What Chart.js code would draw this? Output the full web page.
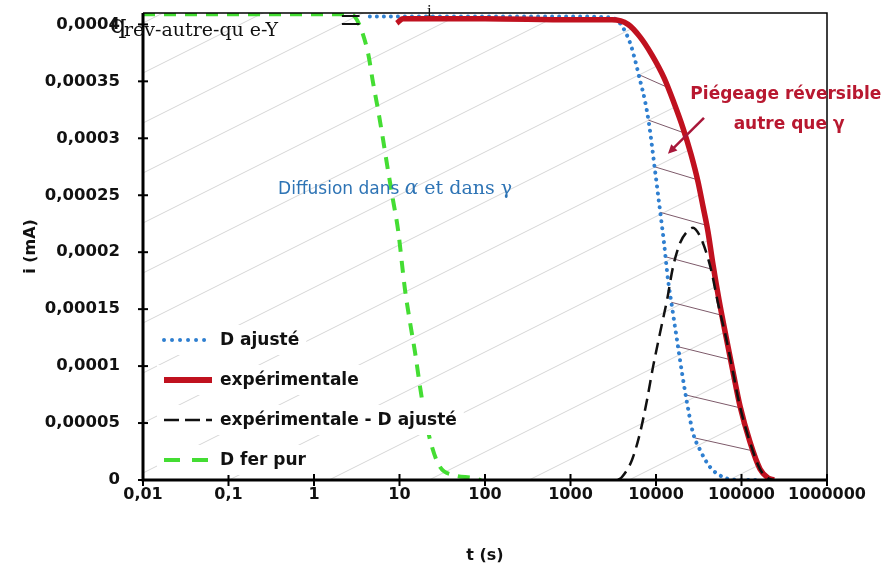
<!DOCTYPE html>
<html>
<head>
<meta charset="utf-8">
<script src="https://cdn.jsdelivr.net/npm/chart.js@4/dist/chart.umd.min.js"></script>
<style>
  body { margin: 0; background: #fff; }
</style>
</head>
<body>
<canvas id="chart" width="888" height="569"></canvas>
<script>
// axes
const xTickValues = [0.01, 0.1, 1, 10, 100, 1000, 10000, 100000, 1000000];
const xTickLabels = ["0,01", "0,1", "1", "10", "100", "1000", "10000", "100000", "1000000"];
const yTickValues = [0, 0.00005, 0.0001, 0.00015, 0.0002, 0.00025, 0.0003, 0.00035, 0.0004];
const yTickLabels = ["0", "0,00005", "0,0001", "0,00015", "0,0002", "0,00025", "0,0003", "0,00035", "0,0004"];

// séries : t (s) et i (mA)
const seriesNames = ["D ajusté", "expérimentale", "expérimentale - D ajusté", "D fer pur"];

const dAjusteT = [4.5, 100, 1000, 3000, 3793, 4335, 4966, 5680, 6500, 7430, 8280, 8980, 9730, 10550, 11430, 12420, 13810, 15390, 17610, 20150, 23070, 27100, 32730, 42850, 60800, 96000, 165000];
const dAjusteI = [0.000407, 0.000407, 0.000407, 0.000406, 0.000401, 0.000394, 0.000384, 0.000369, 0.000351, 0.000333, 0.000313, 0.000293, 0.000272, 0.000251, 0.000230, 0.000208, 0.000176, 0.000152, 0.000123, 0.000094, 0.0000677, 0.0000413, 0.0000264, 0.0000114, 0.0000026, 0, 0];

const expT = [9.3, 11, 100, 1000, 3055, 4710, 6500, 8980, 12420, 16250, 20700, 25660, 30970, 35500, 40550, 46450, 54600, 65900, 79600, 96000, 125600, 164500, 204000, 240000];
const expI = [0.000401, 0.000405, 0.000405, 0.000404, 0.000404, 0.0004, 0.000389, 0.000373, 0.000353, 0.000331, 0.000309, 0.000286, 0.000262, 0.00024, 0.000218, 0.000189, 0.000158, 0.000126, 0.0000949, 0.000065, 0.0000334, 0.0000097, 0.0000018, 0];

const diffT = [3594, 4000, 5236, 6500, 7850, 9230, 11140, 13460, 15810, 19100, 23070, 27100, 32730, 38600, 44600, 52800, 65900, 79600, 96000, 125600, 164500, 204000, 230000];
const diffI = [0, 0.0000026, 0.0000176, 0.0000413, 0.0000703, 0.0000993, 0.000129, 0.000158, 0.000187, 0.000208, 0.000218, 0.0002215, 0.000214, 0.0002, 0.000183, 0.000156, 0.000125, 0.0000945, 0.0000645, 0.0000333, 0.0000096, 0.0000018, 0];

const ferPurT = [0.01, 0.1, 1, 2.6, 3.18, 4.28, 4.9, 5.61, 6.42, 7.33, 8.39, 9.6, 11.6, 13.3, 15.2, 17.4, 19.9, 24, 29.8, 42.3, 72.5, 90];
const ferPurI = [0.000409, 0.000409, 0.000409, 0.000409, 0.000404, 0.000375, 0.000349, 0.000325, 0.000299, 0.000272, 0.000246, 0.00022, 0.000167, 0.000138, 0.000112, 0.0000817, 0.0000554, 0.000029, 0.0000114, 0.0000044, 0.0000018, 0];

// niveaux des hachures entre D ajusté et expérimentale
const piegeageLevels = [0.000356, 0.000316, 0.000275, 0.000235, 0.000196, 0.000156, 0.000117, 0.0000747, 0.0000369];

const toPoints = (t, v) => t.map((x, k) => ({ x: x, y: v[k] }));

const FONT = "'DejaVu Sans', sans-serif";

// hachures grises sous la courbe expérimentale + hachures du piégeage
const hatchPlugin = {
    id: 'hatch',
    beforeDatasetsDraw(chart) {
        const { ctx, chartArea: a } = chart;
        const red = chart.getDatasetMeta(1).data;
        ctx.save();
        ctx.beginPath();
        ctx.moveTo(a.left, a.top);
        ctx.lineTo(red[0].x, a.top);
        red.forEach(p => ctx.lineTo(p.x, p.y));
        ctx.lineTo(red[red.length - 1].x, a.bottom);
        ctx.lineTo(a.left, a.bottom);
        ctx.closePath();
        ctx.clip();
        ctx.strokeStyle = '#d6d6d6';
        ctx.lineWidth = 1;
        const w = a.right - a.left;
        for (let y0 = a.top + 10; y0 < a.bottom + w * 0.5; y0 += 50) {
            ctx.beginPath();
            ctx.moveTo(a.left, y0);
            ctx.lineTo(a.right, y0 - w * 0.5);
            ctx.stroke();
        }
        ctx.restore();

        // hachures foncées entre les deux courbes
        const blue = chart.getDatasetMeta(0).data;
        const yScale = chart.scales.y;
        const xOnCurve = (pts, yPix) => {
            for (let i = pts.length - 1; i > 0; i--) {
                const p0 = pts[i - 1], p1 = pts[i];
                if ((p0.y - yPix) * (p1.y - yPix) <= 0 && p0.y !== p1.y) {
                    return p0.x + (yPix - p0.y) / (p1.y - p0.y) * (p1.x - p0.x);
                }
            }
            return null;
        };
        ctx.save();
        ctx.strokeStyle = '#7d5a6a';
        ctx.lineWidth = 1;
        piegeageLevels.forEach(v => {
            const y1 = yScale.getPixelForValue(v);
            const y2 = y1 + 13;
            const x1 = xOnCurve(blue, y1);
            const x2 = xOnCurve(red, y2);
            if (x1 == null || x2 == null) return;
            ctx.beginPath();
            ctx.moveTo(x1, y1);
            ctx.lineTo(x2, y2);
            ctx.stroke();
        });
        ctx.restore();
    }
};

// cadre, graduations, légende et annotations
const framePlugin = {
    id: 'frame',
    afterDatasetsDraw(chart) {
        const { ctx, chartArea: a, scales } = chart;
        ctx.save();
        ctx.strokeStyle = '#000';
        ctx.lineWidth = 1.5;
        ctx.beginPath();
        ctx.moveTo(a.left, a.top);
        ctx.lineTo(a.right, a.top);
        ctx.lineTo(a.right, a.bottom);
        ctx.stroke();
        ctx.lineWidth = 3;
        ctx.beginPath();
        ctx.moveTo(a.left, a.top);
        ctx.lineTo(a.left, a.bottom);
        ctx.lineTo(a.right, a.bottom);
        ctx.stroke();
        ctx.lineWidth = 2;
        scales.x.ticks.forEach(t => {
            const x = scales.x.getPixelForValue(t.value);
            ctx.beginPath();
            ctx.moveTo(x, a.bottom - 6);
            ctx.lineTo(x, a.bottom + 6);
            ctx.stroke();
        });
        scales.y.ticks.forEach(t => {
            const y = scales.y.getPixelForValue(t.value);
            ctx.beginPath();
            ctx.moveTo(a.left - 5, y);
            ctx.lineTo(a.left + 5, y);
            ctx.stroke();
        });
        ctx.restore();

        // légende
        ctx.save();
        ctx.font = "bold 17px " + FONT;
        ctx.textBaseline = 'middle';
        chart.data.datasets.forEach((ds, k) => {
            const y = a.bottom - 140 + 40 * k;
            const tw = ctx.measureText(ds.label).width;
            ctx.fillStyle = '#fff';
            ctx.fillRect(a.left + 14, y - 15, 64 + tw + 6, 30);
            ctx.strokeStyle = ds.borderColor;
            ctx.lineWidth = ds.legendWidth;
            ctx.lineCap = ds.borderCapStyle || 'butt';
            ctx.setLineDash(ds.legendDash);
            ctx.beginPath();
            ctx.moveTo(a.left + 21, y);
            ctx.lineTo(a.left + 69, y);
            ctx.stroke();
            ctx.setLineDash([]);
            ctx.fillStyle = '#111';
            ctx.fillText(ds.label, a.left + 77, y + 1);
        });
        ctx.restore();

        // annotations
        const px = (t) => scales.x.getPixelForValue(t);
        const py = (v) => scales.y.getPixelForValue(v);
        ctx.save();
        ctx.fillStyle = '#b81830';
        ctx.font = "bold 17px " + FONT;
        ctx.textAlign = 'center';
        ctx.textBaseline = 'middle';
        ctx.fillText("Piégeage réversible", px(330000), py(0.000338));
        ctx.fillText("autre que γ", px(360000), py(0.000312));
        // flèche
        const x1 = px(36400), y1 = py(0.000318), x2 = px(13800), y2 = py(0.0002865);
        ctx.strokeStyle = '#a8173a';
        ctx.lineWidth = 2.5;
        ctx.beginPath();
        ctx.moveTo(x1, y1);
        ctx.lineTo(x2 + 5, y2 - 5);
        ctx.stroke();
        const ang = Math.atan2(y2 - y1, x2 - x1);
        ctx.fillStyle = '#a8173a';
        ctx.beginPath();
        ctx.moveTo(x2, y2);
        ctx.lineTo(x2 - 10 * Math.cos(ang - 0.45), y2 - 10 * Math.sin(ang - 0.45));
        ctx.lineTo(x2 - 10 * Math.cos(ang + 0.45), y2 - 10 * Math.sin(ang + 0.45));
        ctx.closePath();
        ctx.fill();

        // diffusion
        ctx.textAlign = 'left';
        ctx.textBaseline = 'alphabetic';
        ctx.fillStyle = '#2e74b5';
        let x = px(0.38);
        const yb = py(0.000251);
        ctx.font = "17px " + FONT;
        ctx.fillText("Diffusion dans ", x, yb);
        x += ctx.measureText("Diffusion dans ").width;
        ctx.font = "italic 20px 'DejaVu Serif', serif";
        ctx.fillText("α", x, yb);
        x += ctx.measureText("α").width;
        ctx.font = "19px 'DejaVu Serif', serif";
        ctx.fillText(" et dans γ", x, yb);
        ctx.restore();
    },
    afterDraw(chart) {
        // texte parasite en haut de la figure
        const { ctx } = chart;
        ctx.save();
        ctx.fillStyle = '#111';
        ctx.font = "26px 'DejaVu Serif', serif";
        ctx.fillText("q", 110, 33);
        ctx.font = "19px 'DejaVu Serif', serif";
        ctx.fillText("rev-autre-qu e-Y", 124, 36);
        ctx.font = "38px 'Liberation Serif', serif";
        ctx.fillText("=", 340, 33);
        ctx.font = "17px 'Liberation Serif', serif";
        ctx.fillText("i", 427, 16);
        ctx.restore();
    }
};

const ctx = document.getElementById('chart').getContext('2d');

const myChart = new Chart(ctx, {
    type: 'line',
    data: {
        datasets: [{
            label: seriesNames[0],
            data: toPoints(dAjusteT, dAjusteI),
            borderColor: '#2f7fd0',
            borderWidth: 4,
            borderDash: [0.01, 7],
            borderCapStyle: 'round',
            legendWidth: 4,
            legendDash: [0.01, 8],
            order: 2
        }, {
            label: seriesNames[1],
            data: toPoints(expT, expI),
            borderColor: '#c0111f',
            borderWidth: 5.5,
            legendWidth: 6,
            legendDash: [],
            order: 1
        }, {
            label: seriesNames[2],
            data: toPoints(diffT, diffI),
            borderColor: '#111',
            borderWidth: 2.5,
            borderDash: [12, 7],
            legendWidth: 2.5,
            legendDash: [15, 6],
            order: 0
        }, {
            label: seriesNames[3],
            data: toPoints(ferPurT, ferPurI),
            borderColor: '#44dd33',
            borderWidth: 4,
            borderDash: [12, 9],
            legendWidth: 4,
            legendDash: [16, 12],
            order: 3
        }]
    },
    options: {
        responsive: false,
        animation: false,
        devicePixelRatio: 1,
        layout: { padding: { left: 0, right: 61, top: 13, bottom: 0 } },
        elements: {
            point: { radius: 0 },
            line: { cubicInterpolationMode: 'monotone' }
        },
        plugins: {
            legend: { display: false },
            tooltip: { enabled: false }
        },
        scales: {
            x: {
                type: 'logarithmic',
                min: 0.01,
                max: 1000000,
                grid: { display: false, drawTicks: false },
                border: { display: false },
                afterBuildTicks: (scale) => { scale.ticks = xTickValues.map(v => ({ value: v })); },
                afterFit: (scale) => {
                    scale.height = 89;
                    scale.paddingLeft = 0;
                    scale.paddingRight = 0;
                },
                ticks: {
                    autoSkip: false,
                    maxRotation: 0,
                    padding: 5,
                    color: '#111',
                    font: { family: FONT, size: 16, weight: 'bold' },
                    callback: (v, i) => xTickLabels[i]
                },
                title: {
                    display: true,
                    text: 't (s)',
                    color: '#111',
                    font: { family: FONT, size: 16, weight: 'bold' },
                    padding: { top: 0, bottom: 4 }
                }
            },
            y: {
                min: 0,
                max: 0.00041,
                grid: { display: false, drawTicks: false },
                border: { display: false },
                afterBuildTicks: (scale) => { scale.ticks = yTickValues.map(v => ({ value: v })); },
                afterFit: (scale) => {
                    scale.width = 143;
                    scale.paddingTop = 0;
                    scale.paddingBottom = 0;
                },
                ticks: {
                    padding: 23,
                    color: '#111',
                    font: { family: FONT, size: 16.5, weight: 'bold' },
                    callback: (v, i) => yTickLabels[i]
                },
                title: {
                    display: true,
                    text: 'i (mA)',
                    color: '#111',
                    font: { family: FONT, size: 16, weight: 'bold' },
                    padding: { top: 21, bottom: 0 }
                }
            }
        }
    },
    plugins: [hatchPlugin, framePlugin]
});
</script>
</body>
</html>
